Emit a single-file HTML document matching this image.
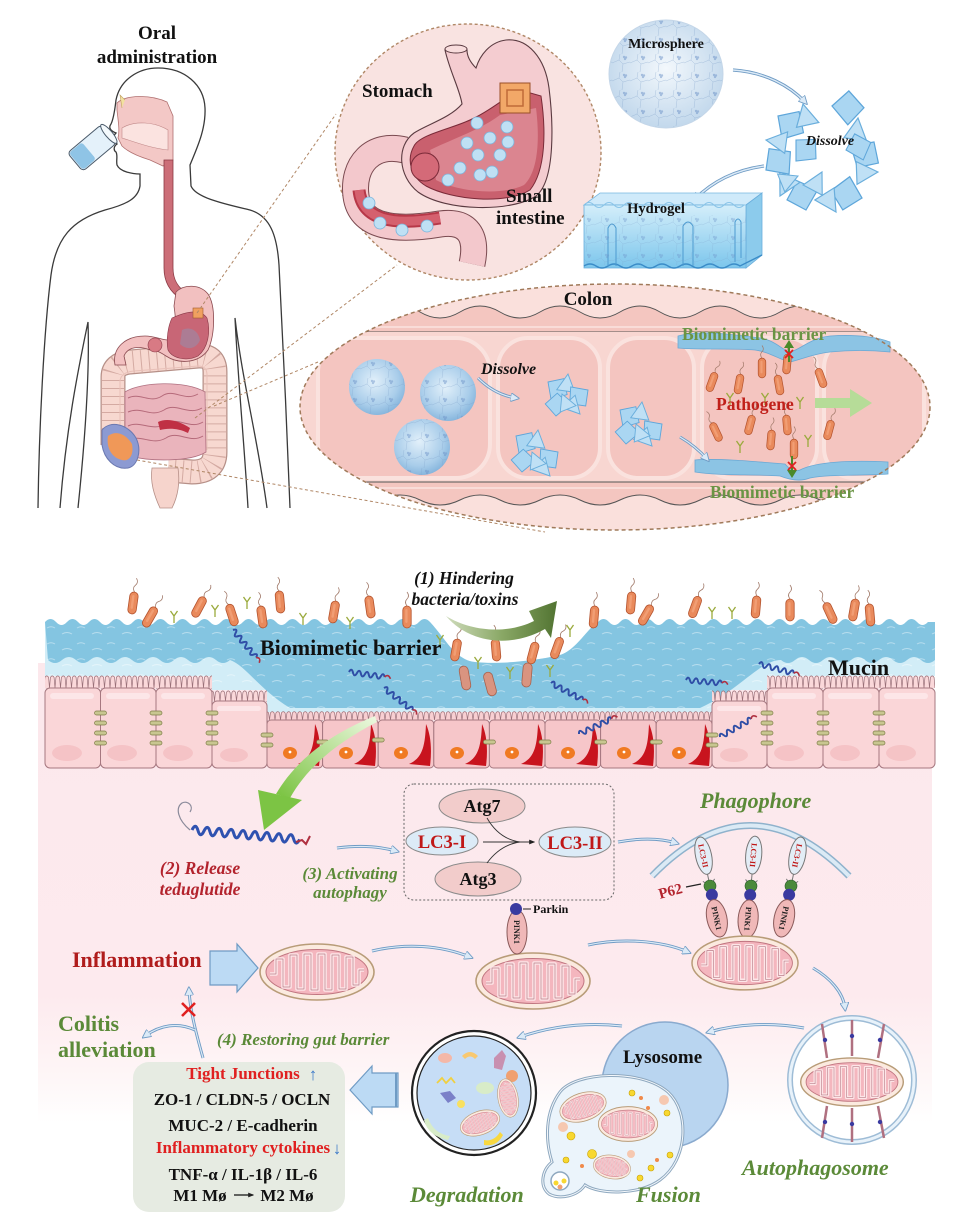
<!DOCTYPE html>
<html><head><meta charset="utf-8">
<style>
html,body{margin:0;padding:0;background:#fff;}
svg{display:block;}
text{font-family:"Liberation Serif","Times New Roman",serif;font-weight:bold;}
</style></head>
<body>
<svg width="955" height="1231" viewBox="0 0 955 1231" xmlns="http://www.w3.org/2000/svg">
<defs>
 <radialGradient id="sph" cx="45%" cy="40%" r="62%">
  <stop offset="0" stop-color="#e2f0fa"/><stop offset="0.7" stop-color="#a9cdea"/><stop offset="1" stop-color="#84b4dc"/>
 </radialGradient>
 <radialGradient id="msph" cx="50%" cy="45%" r="55%">
  <stop offset="0" stop-color="#f3f8fc"/><stop offset="1" stop-color="#c2d8ec"/>
 </radialGradient>
 <linearGradient id="gArrow" x1="0" y1="0" x2="1" y2="0">
  <stop offset="0" stop-color="#cfdcbc"/><stop offset="0.5" stop-color="#8aa866"/><stop offset="1" stop-color="#527432"/>
 </linearGradient>
 <linearGradient id="lgArrow" x1="1" y1="0" x2="0" y2="1">
  <stop offset="0" stop-color="#eef9e2"/><stop offset="1" stop-color="#78c23e"/>
 </linearGradient>
 <linearGradient id="pinkbg" x1="0" y1="0" x2="0" y2="1">
  <stop offset="0" stop-color="#fce8ec"/><stop offset="0.72" stop-color="#fdeaee"/><stop offset="0.9" stop-color="#fef6f7"/><stop offset="1" stop-color="#ffffff"/>
 </linearGradient>
 <linearGradient id="hyd" x1="0" y1="0" x2="0" y2="1">
  <stop offset="0" stop-color="#d4eefa"/><stop offset="1" stop-color="#7cc6ec"/>
 </linearGradient>
 <pattern id="v1" x="0" y="675" width="5.5" height="13" patternUnits="userSpaceOnUse">
  <path d="M0,13 L0.9,2.5 Q2.75,-0.8 4.6,2.5 L5.5,13" fill="#fad8da" stroke="#9a7078" stroke-width="0.7"/>
 </pattern>
 <pattern id="v2" x="0" y="690" width="5.5" height="11" patternUnits="userSpaceOnUse">
  <path d="M0,11 L0.9,2.5 Q2.75,-0.8 4.6,2.5 L5.5,11" fill="#fad8da" stroke="#9a7078" stroke-width="0.7"/>
 </pattern>
 <pattern id="v3" x="0" y="711" width="5.5" height="9" patternUnits="userSpaceOnUse">
  <path d="M0,9 L0.9,2 Q2.75,-0.8 4.6,2 L5.5,9" fill="#f8cfd2" stroke="#9a7078" stroke-width="0.7"/>
 </pattern>
 <pattern id="wv" x="0" y="0" width="30" height="16" patternUnits="userSpaceOnUse">
  <path d="M2,10 q5,-3 10,0 M17,4 q4,-2.5 8,0" fill="none" stroke="#ffffff" stroke-width="1" opacity="0.7"/>
 </pattern>
 <pattern id="net" x="0" y="0" width="18" height="18" patternUnits="userSpaceOnUse">
  <path d="M0,9 L7,6 L11,10 L18,8 M7,6 L8,0 M11,10 L10,18" fill="none" stroke="#7a9cc6" stroke-width="0.5"/>
  <circle cx="12" cy="3" r="1.2" fill="#6a90c6"/><circle cx="14" cy="3.5" r="1.2" fill="#6a90c6"/><circle cx="13" cy="5" r="1.2" fill="#6a90c6"/>
 </pattern>
 <marker id="mb" viewBox="0 0 10 10" refX="6" refY="5" markerWidth="9" markerHeight="9" markerUnits="userSpaceOnUse" orient="auto">
  <path d="M0,0 L10,5 L0,10 Z" fill="#dbeaf7" stroke="#6f9bc4" stroke-width="1"/>
 </marker>
 <marker id="mk" viewBox="0 0 10 10" refX="8" refY="5" markerWidth="6" markerHeight="6" markerUnits="userSpaceOnUse" orient="auto">
  <path d="M0,1 L10,5 L0,9 Z" fill="#222"/>
 </marker>
 <g id="bac">
  <path d="M0,-11 q-3,-4 0,-7 q3,-3 0,-7" fill="none" stroke="#a07868" stroke-width="0.8"/>
  <rect x="-4.2" y="-11" width="8.4" height="22" rx="4.2" fill="#e98a5c" stroke="#b4532e" stroke-width="0.8"/>
  <rect x="-1.8" y="-8" width="2.4" height="14" rx="1.2" fill="#f3a37a" opacity="0.8"/>
 </g>
 <g id="bac2">
  <rect x="-4.5" y="-12" width="9" height="24" rx="4.5" fill="#d99480" stroke="#a8614c" stroke-width="0.8"/>
 </g>
 <g id="yt"><path d="M0,7 L0,0 L-3.5,-5 M0,0 L3.5,-5" stroke="#9aaa3c" stroke-width="1.3" fill="none"/></g>
 <g id="hx">
  <path d="M0,0 q2,-5 4,0 t4,0 t4,0 t4,0 t4,0 t4,0 t4,0 t4,0 t4,0" fill="none" stroke="#2f4ea6" stroke-width="2"/>
  <path d="M36,0 q3,-4 6,1" fill="none" stroke="#b03040" stroke-width="1.6"/>
 </g>
 <g id="mito">
  <ellipse rx="57" ry="28" fill="#fbeadf" stroke="#b89c78" stroke-width="1.6"/>
  <ellipse rx="51" ry="22.5" fill="#f4b6be" stroke="#c07580" stroke-width="1"/>
  <path d="M-47,2 L-41,2 L-41,-13 L-34,-13 L-34,15 L-27,15 L-27,-17 L-20,-17 L-20,17 L-13,17 L-13,-18 L-6,-18 L-6,18 L1,18 L1,-18 L8,-18 L8,18 L15,18 L15,-17 L22,-17 L22,17 L29,17 L29,-15 L36,-15 L36,13 L42,13 L42,-2 L47,-2" fill="none" stroke="#fde6e8" stroke-width="3.6" stroke-linejoin="round"/>
  <path d="M-47,2 L-41,2 L-41,-13 L-34,-13 L-34,15 L-27,15 L-27,-17 L-20,-17 L-20,17 L-13,17 L-13,-18 L-6,-18 L-6,18 L1,18 L1,-18 L8,-18 L8,18 L15,18 L15,-17 L22,-17 L22,17 L29,17 L29,-15 L36,-15 L36,13 L42,13 L42,-2 L47,-2" fill="none" stroke="#a86472" stroke-width="0.7" stroke-linejoin="round" opacity="0.8"/>
 </g>
 <g id="jn"><rect x="-6" y="-2" width="12" height="4" rx="2" fill="#c8c690" stroke="#7e7c48" stroke-width="0.7"/></g>
 <clipPath id="colclip"><ellipse cx="615" cy="407" rx="315" ry="123"/></clipPath>
 <g id="frag">
  <path d="M0,0 L10,-4 L14,6 L4,11 Z" fill="#aad6f2" stroke="#5ea6da" stroke-width="0.6"/>
 </g>
 <g id="frag2">
  <path d="M0,0 L12,2 L5,11 Z" fill="#bfe0f5" stroke="#6aaedc" stroke-width="0.6"/>
 </g>
 <clipPath id="mucclip"><path d="M45,616 L430,616 C445,638 455,660 475,662 C500,665 540,660 560,655 C576,650 586,630 598,616 L935,616 L935,676 L767,676 L767,690 L712,690 L712,712 L267,712 L267,690 L212,690 L212,676 L45,676 Z"/></clipPath>
</defs>

<!-- ================= TOP: BODY ================= -->
<g fill="none" stroke="#3a3a3a" stroke-width="1.3">
 <path d="M38,508 C39,430 44,330 51,275 C56,238 72,220 105,210 C128,204 138,198 140,186 L140,174 C133,174 120,172 117,165 C116,160 118,156 116,152 C113,150 114,146 117,144 C112,140 113,136 116,133 C111,131 108,128 111,124 C114,118 115,108 116,100 C120,80 138,68 158,68 C185,68 204,85 205,108 C206,130 196,150 190,165 L191,186 C196,198 225,204 250,210 C270,216 277,235 279,265 C283,340 287,430 290,508"/>
 <path d="M60,508 C66,430 78,370 88,322 C90,380 84,450 78,508"/>
 <path d="M248,508 C244,440 238,380 235,318 C242,380 258,440 267,508"/>
</g>
<!-- cup -->
<g transform="translate(92,148) rotate(50)">
 <rect x="-12" y="-22" width="24" height="44" rx="4" fill="#e4f1fa" stroke="#4a5a6a" stroke-width="1"/>
 <rect x="-11" y="4" width="22" height="17" rx="3" fill="#8fc4e6"/>
 <ellipse cx="0" cy="-22" rx="12" ry="3.5" fill="#f4f9fc" stroke="#4a5a6a" stroke-width="1"/>
</g>
<!-- head cavity -->
<path d="M117,103 C125,95 150,94 167,102 L173,116 L173,160 L163,166 L150,160 C140,157 128,152 122,146 L118,138 C120,130 118,120 117,110 Z" fill="#f3c8c6" stroke="#b07070" stroke-width="0.8"/>
<path d="M122,128 C135,120 155,122 168,130 L168,150 C150,148 135,142 122,138 Z" fill="#fbe3e0" stroke="#c08888" stroke-width="0.6"/>
<path d="M125,100 L120,95 L122,108" fill="#f2e0a0" stroke="#c0a060" stroke-width="0.6"/>
<!-- esophagus -->
<path d="M164,160 L173,160 L173,268 C173,280 178,288 188,294 L181,299 C170,292 164,282 164,268 Z" fill="#cc6e78" stroke="#8a3a44" stroke-width="0.8"/>
<!-- large intestine -->
<path d="M113,445 L113,377 Q113,364 130,362 L198,356 Q215,355 215,372 L215,452 Q215,472 192,472 L168,470" fill="none" stroke="#b69088" stroke-width="25"/>
<path d="M113,445 L113,377 Q113,364 130,362 L198,356 Q215,355 215,372 L215,452 Q215,472 192,472 L168,470" fill="none" stroke="#f7d8d0" stroke-width="22.5"/>
<path d="M113,445 L113,377 Q113,364 130,362 L198,356 Q215,355 215,372 L215,452 Q215,472 192,472 L168,470" fill="none" stroke="#d4aaa2" stroke-width="22" stroke-dasharray="1,7"/>
<path d="M120,443 L120,380 Q122,372 134,371 L198,366 Q207,366 207,375 L207,450" fill="none" stroke="#e8c0b8" stroke-width="1"/>
<!-- stomach (body) -->
<path d="M176,292 C184,284 200,284 208,294 C216,306 215,335 208,350 C198,364 178,364 166,356 C160,352 156,350 150,350 C140,346 128,346 124,356 L126,365 L115,365 C112,348 125,336 145,336 C155,336 162,340 168,340 C178,338 176,320 174,306 Z" fill="#f2c0c0" stroke="#8a4a50" stroke-width="0.8"/>
<path d="M172,318 C185,312 200,308 207,318 C211,332 208,348 198,356 C186,362 172,358 168,350 C166,340 168,326 172,318 Z" fill="#c86676" stroke="#8a3a48" stroke-width="0.6"/>
<path d="M182,330 C190,326 198,330 200,340 C196,350 186,350 180,344 Z" fill="#9a8aa8" opacity="0.6"/>
<circle cx="155" cy="345" r="7" fill="#d87a84" stroke="#8a3a48" stroke-width="0.6"/>
<rect x="193" y="308" width="10" height="10" fill="#f0a060" stroke="#a05a30" stroke-width="0.6"/>
<!-- small intestine -->
<path d="M125,392 C140,382 185,380 205,392 L206,452 C190,462 150,462 125,455 Z" fill="#eab4bc" stroke="#b07080" stroke-width="0.8"/>
<path d="M128,398 C140,392 150,404 162,396 C174,388 184,402 198,394 M128,412 C142,406 150,418 164,410 C176,402 188,416 202,408 M128,426 C140,420 152,432 166,424 C178,416 190,430 203,422 M128,440 C142,434 152,446 166,438 C178,430 190,444 203,436" fill="none" stroke="#b56a7a" stroke-width="1"/>
<path d="M158,422 C166,418 178,420 190,428 L188,433 C178,428 168,428 160,430 Z" fill="#c03044"/>
<!-- cecum -->
<path d="M102,430 C110,420 128,424 136,438 C142,450 138,466 128,468 C114,470 104,458 102,445 Z" fill="#8c9ad2" stroke="#6a78b0" stroke-width="1"/>
<path d="M108,436 C116,430 126,434 132,444 C134,454 130,462 122,460 C112,458 106,448 108,436 Z" fill="#f09858"/>
<!-- rectum -->
<path d="M152,468 C150,482 154,495 160,508 L172,508 C178,496 180,482 178,468 Z" fill="#f6d4cc" stroke="#b69088" stroke-width="0.8"/>

<!-- dashed connectors -->
<g stroke="#b08766" stroke-width="1" stroke-dasharray="3,2.5" fill="none">
 <line x1="197" y1="313" x2="336" y2="114"/>
 <line x1="195" y1="418" x2="397" y2="265"/>
 <line x1="214" y1="406" x2="318" y2="362"/>
 <line x1="137" y1="460" x2="545" y2="532"/>
</g>

<text x="157" y="39" font-size="19" text-anchor="middle" fill="#111">Oral</text>
<text x="157" y="63" font-size="19" text-anchor="middle" fill="#111">administration</text>

<!-- ================= STOMACH CIRCLE ================= -->
<ellipse cx="468" cy="152" rx="133" ry="128" fill="#f9e3e1" stroke="#b08766" stroke-width="1.4" stroke-dasharray="3,2.5"/>
<path d="M405,150 C372,142 352,165 356,196 C360,226 392,232 440,224 C468,220 478,236 472,264" fill="none" stroke="#7a4a50" stroke-width="27"/>
<path d="M405,150 C372,142 352,165 356,196 C360,226 392,232 440,224 C468,220 478,236 472,264" fill="none" stroke="#f3c8cc" stroke-width="25"/>
<path d="M359,190 C362,220 392,226 440,218" fill="none" stroke="#b73848" stroke-width="13"/>
<path d="M359,190 C362,220 392,226 440,218" fill="none" stroke="#d5606e" stroke-width="9"/>
<path d="M445,50 C450,72 460,90 462,104 C450,118 428,124 414,133 C396,146 398,176 418,192 C446,212 512,212 536,196 C556,180 553,120 549,88 C545,58 528,38 506,40 C490,42 480,55 476,68 C470,62 467,56 467,50 Z" fill="#f4ccd0" stroke="#5a3a40" stroke-width="1.1"/>
<ellipse cx="456" cy="49" rx="11" ry="4" fill="#f8dcdc" stroke="#5a3a40" stroke-width="1"/>
<path d="M414,146 C420,134 455,128 472,119 C492,110 506,96 520,90 L541,96 C546,130 546,170 530,190 C506,205 452,200 426,186 C411,177 406,160 414,146 Z" fill="#c9606e" stroke="#7a2a38" stroke-width="1"/>
<path d="M430,150 C450,140 480,130 500,115 L536,108 C540,140 538,172 524,185 C502,196 458,192 436,180 Z" fill="#e08e98" opacity="0.8"/>
<circle cx="425" cy="167" r="14" fill="#d46a78" stroke="#7a2a38" stroke-width="1"/>
<rect x="500" y="83" width="30" height="30" fill="#f2a868" stroke="#9a5028" stroke-width="1"/>
<rect x="507" y="90" width="16" height="16" fill="none" stroke="#c06a38" stroke-width="1.5"/>
<g fill="#bfe0f4" stroke="#7ab4dc" stroke-width="0.8">
 <circle cx="477" cy="123" r="6"/><circle cx="507" cy="127" r="6"/><circle cx="467" cy="143" r="6"/><circle cx="490" cy="138" r="6"/><circle cx="508" cy="142" r="6"/><circle cx="478" cy="155" r="6"/><circle cx="500" cy="155" r="6"/><circle cx="460" cy="168" r="6"/><circle cx="480" cy="175" r="6"/><circle cx="492" cy="172" r="6"/><circle cx="448" cy="180" r="6"/>
 <circle cx="369" cy="203" r="6"/><circle cx="380" cy="223" r="6"/><circle cx="402" cy="230" r="6"/><circle cx="427" cy="226" r="6"/>
</g>
<text x="362" y="97" font-size="19" fill="#111">Stomach</text>
<text x="506" y="202" font-size="19" fill="#111">Small</text>
<text x="496" y="224" font-size="19" fill="#111">intestine</text>

<!-- ================= MICROSPHERE / HYDROGEL ================= -->
<ellipse cx="666" cy="74" rx="57" ry="54" fill="url(#msph)"/>
<ellipse cx="666" cy="74" rx="57" ry="54" fill="url(#net)" opacity="0.5"/>
<ellipse cx="666" cy="74" rx="57" ry="54" fill="none" stroke="#c4d6e8" stroke-width="1"/>
<text x="666" y="48" font-size="14" text-anchor="middle" fill="#111">Microsphere</text>
<path d="M733,70 C765,72 790,86 805,102" fill="none" stroke="#6f9bc4" stroke-width="3.2" marker-end="url(#mb)"/>
<path d="M733,70 C765,72 790,86 805,102" fill="none" stroke="#dbeaf7" stroke-width="1.4"/>
<!-- dissolved fragments -->
<g>
 <use href="#frag" transform="translate(778,116) rotate(10) scale(2)"/>
 <use href="#frag2" transform="translate(803,104) rotate(40) scale(2)"/>
 <use href="#frag" transform="translate(832,106) rotate(-20) scale(2.1)"/>
 <use href="#frag2" transform="translate(858,118) rotate(60) scale(2)"/>
 <use href="#frag" transform="translate(874,142) rotate(100) scale(2)"/>
 <use href="#frag2" transform="translate(878,172) rotate(140) scale(2)"/>
 <use href="#frag" transform="translate(862,198) rotate(170) scale(2.1)"/>
 <use href="#frag2" transform="translate(836,212) rotate(200) scale(2)"/>
 <use href="#frag" transform="translate(806,210) rotate(230) scale(2)"/>
 <use href="#frag2" transform="translate(780,196) rotate(260) scale(2)"/>
 <use href="#frag" transform="translate(766,170) rotate(300) scale(2)"/>
 <use href="#frag2" transform="translate(766,140) rotate(330) scale(1.9)"/>
 <use href="#frag" transform="translate(796,140) rotate(20) scale(1.8)"/>
 <use href="#frag2" transform="translate(822,172) rotate(80) scale(1.9)"/>
 <use href="#frag" transform="translate(846,150) rotate(-40) scale(1.7)"/>
 <use href="#frag2" transform="translate(798,176) rotate(120) scale(1.7)"/>
</g>
<text x="830" y="145" font-size="14" font-style="italic" text-anchor="middle" fill="#111">Dissolve</text>
<path d="M764,166 C735,170 712,182 695,199" fill="none" stroke="#6f9bc4" stroke-width="3.2" marker-end="url(#mb)"/>
<path d="M764,166 C735,170 712,182 695,199" fill="none" stroke="#dbeaf7" stroke-width="1.4"/>
<!-- hydrogel slab -->
<path d="M584,205 L600,193 L762,193 L746,205 Z" fill="#cfeafa" stroke="#7ab8e0" stroke-width="0.8"/>
<path d="M746,205 L762,193 L762,255 L746,268 Z" fill="#8ccbec" stroke="#6aaedc" stroke-width="0.8"/>
<path d="M584,205 L746,205 L746,268 L584,268 Z" fill="url(#hyd)" stroke="#6aaedc" stroke-width="0.8"/>
<path d="M584,205 q5,-5 10,0 t10,0 t10,0 t10,0 t10,0 t10,0 t10,0 t10,0 t10,0 t10,0 t10,0 t10,0 t10,0 t10,0 t10,0 t10,0 L746,205" fill="none" stroke="#8ac4e8" stroke-width="1"/>
<path d="M584,266 q6,-4 12,0 t12,0 t12,0 t12,0 t12,0 t12,0 t12,0 t12,0 t12,0 t12,0 t12,0 t12,0 t12,0 L762,255" fill="none" stroke="#3a8cc8" stroke-width="1.4"/>
<g fill="none" stroke="#4c9ad0" stroke-width="1">
 <path d="M608,266 L608,228 Q612,220 616,228 L616,266"/>
 <path d="M683,266 L683,226 Q688,218 693,226 L693,266"/>
 <path d="M735,262 L735,222 Q738,216 741,222 L741,258"/>
</g>
<rect x="584" y="215" width="162" height="50" fill="url(#net)" opacity="0.35"/>
<text x="656" y="213" font-size="14.5" text-anchor="middle" fill="#111">Hydrogel</text>

<!-- ================= COLON ELLIPSE ================= -->
<ellipse cx="615" cy="407" rx="315" ry="123" fill="#fae0dc"/>
<g clip-path="url(#colclip)">
 <path d="M300,312 q20,-12 40,0 t40,0 t40,0 t40,0 t40,0 t40,0 t40,0 t40,0 t40,0 t40,0 t40,0 t40,0 t40,0 t40,0 t40,0 t40,0 L940,332 L300,332 Z" fill="#f4c6c0" stroke="#555" stroke-width="1"/>
 <rect x="300" y="332" width="640" height="150" fill="#f8d6d1"/>
 <g fill="#f4c5c0" stroke="#fae2de" stroke-width="4">
  <rect x="318" y="338" width="172" height="140" rx="34"/>
  <rect x="498" y="338" width="102" height="140" rx="30"/>
  <rect x="608" y="338" width="86" height="140" rx="30"/>
  <rect x="702" y="338" width="115" height="140" rx="30"/>
  <rect x="824" y="338" width="100" height="140" rx="30"/>
 </g>
 <path d="M300,482 L940,482 L940,500 q-20,10 -40,0 t-40,0 t-40,0 t-40,0 t-40,0 t-40,0 t-40,0 t-40,0 t-40,0 t-40,0 t-40,0 t-40,0 t-40,0 t-40,0 t-40,0 t-40,0 Z" fill="#f4c6c0" stroke="#555" stroke-width="1"/>
 <line x1="300" y1="488" x2="940" y2="488" stroke="#f9dcd8" stroke-width="2"/>
 <line x1="300" y1="327" x2="940" y2="327" stroke="#f9dcd8" stroke-width="2"/>
</g>
<path d="M678,336 C700,330 730,334 760,338 C775,340 782,350 790,352 C800,350 810,338 830,336 C860,334 880,338 890,342 L890,352 C870,350 850,350 830,352 C812,354 800,360 790,362 C780,360 770,352 755,350 C730,348 700,350 678,348 Z" fill="#8cc4e4" stroke="#6aa8d4" stroke-width="0.8"/>
<path d="M695,460 C720,458 760,462 785,464 C790,470 795,472 800,470 C815,462 850,460 888,462 L888,474 C860,476 830,474 810,478 C800,482 790,480 780,476 C750,474 720,476 695,472 Z" fill="#8cc4e4" stroke="#6aa8d4" stroke-width="0.8"/>
<g>
 <circle cx="377" cy="387" r="28" fill="url(#sph)"/><circle cx="377" cy="387" r="28" fill="url(#net)" opacity="0.45"/>
 <circle cx="448" cy="393" r="28" fill="url(#sph)"/><circle cx="448" cy="393" r="28" fill="url(#net)" opacity="0.45"/>
 <circle cx="422" cy="447" r="28" fill="url(#sph)"/><circle cx="422" cy="447" r="28" fill="url(#net)" opacity="0.45"/>
</g>
<g>
 <use href="#frag" transform="translate(548,382) rotate(10) scale(1.5)"/>
 <use href="#frag2" transform="translate(568,374) rotate(60) scale(1.6)"/>
 <use href="#frag" transform="translate(588,390) rotate(120) scale(1.5)"/>
 <use href="#frag2" transform="translate(580,414) rotate(190) scale(1.6)"/>
 <use href="#frag" transform="translate(556,416) rotate(250) scale(1.5)"/>
 <use href="#frag2" transform="translate(562,394) rotate(30) scale(1.5)"/>
 <use href="#frag" transform="translate(516,436) rotate(10) scale(1.5)"/>
 <use href="#frag2" transform="translate(538,430) rotate(60) scale(1.6)"/>
 <use href="#frag" transform="translate(558,452) rotate(120) scale(1.5)"/>
 <use href="#frag2" transform="translate(550,476) rotate(190) scale(1.6)"/>
 <use href="#frag" transform="translate(522,472) rotate(250) scale(1.5)"/>
 <use href="#frag2" transform="translate(532,452) rotate(30) scale(1.5)"/>
 <use href="#frag" transform="translate(620,410) rotate(10) scale(1.5)"/>
 <use href="#frag2" transform="translate(642,402) rotate(60) scale(1.6)"/>
 <use href="#frag" transform="translate(662,424) rotate(120) scale(1.5)"/>
 <use href="#frag2" transform="translate(652,446) rotate(190) scale(1.6)"/>
 <use href="#frag" transform="translate(626,444) rotate(250) scale(1.5)"/>
 <use href="#frag2" transform="translate(636,424) rotate(30) scale(1.5)"/>
</g>
<path d="M478,378 C490,390 503,396 516,398" fill="none" stroke="#6f9bc4" stroke-width="3" marker-end="url(#mb)"/>
<path d="M478,378 C490,390 503,396 516,398" fill="none" stroke="#dbeaf7" stroke-width="1.2"/>
<path d="M680,437 C692,444 700,451 707,459" fill="none" stroke="#6f9bc4" stroke-width="3" marker-end="url(#mb)"/>
<path d="M680,437 C692,444 700,451 707,459" fill="none" stroke="#dbeaf7" stroke-width="1.2"/>
<g>
 <use href="#bac" transform="translate(712,382) rotate(20) scale(0.9)"/>
 <use href="#bac" transform="translate(739,384) rotate(10) scale(0.9)"/>
 <use href="#bac" transform="translate(762,368) rotate(0) scale(0.9)"/>
 <use href="#bac" transform="translate(779,385) rotate(-10) scale(0.9)"/>
 <use href="#bac" transform="translate(787,364) rotate(5) scale(0.9)"/>
 <use href="#bac" transform="translate(821,378) rotate(-20) scale(0.9)"/>
 <use href="#bac" transform="translate(750,425) rotate(15) scale(0.9)"/>
 <use href="#bac" transform="translate(716,432) rotate(-25) scale(0.9)"/>
 <use href="#bac" transform="translate(771,440) rotate(5) scale(0.9)"/>
 <use href="#bac" transform="translate(787,425) rotate(-5) scale(0.9)"/>
 <use href="#bac" transform="translate(829,430) rotate(15) scale(0.9)"/>
 <use href="#bac" transform="translate(794,449) rotate(0) scale(0.9)"/>
 <use href="#yt" transform="translate(730,398)"/><use href="#yt" transform="translate(765,398)"/><use href="#yt" transform="translate(800,402)"/><use href="#yt" transform="translate(808,440)"/><use href="#yt" transform="translate(740,446)"/>
</g>
<g>
 <path d="M789,362 L789,346" stroke="#4a8a2a" stroke-width="2"/><path d="M784,348 L789,340 L794,348 Z" fill="#4a8a2a"/>
 <path d="M785,350 L793,358 M793,350 L785,358" stroke="#e02020" stroke-width="1.8"/>
 <path d="M792,456 L792,472" stroke="#4a8a2a" stroke-width="2"/><path d="M787,470 L792,478 L797,470 Z" fill="#4a8a2a"/>
 <path d="M788,462 L796,470 M796,462 L788,470" stroke="#e02020" stroke-width="1.8"/>
</g>
<path d="M815,398 L850,398 L850,389 L872,403 L850,417 L850,408 L815,408 Z" fill="#b6dc98"/>
<ellipse cx="615" cy="407" rx="315" ry="123" fill="none" stroke="#a07a5a" stroke-width="1.5" stroke-dasharray="4,3"/>
<text x="588" y="305" font-size="19" text-anchor="middle" fill="#111">Colon</text>
<text x="481" y="374" font-size="16" font-style="italic" fill="#111">Dissolve</text>
<text x="716" y="410" font-size="17.5" fill="#c0201a">Pathogene</text>
<text x="682" y="340" font-size="17.5" fill="#6a9444">Biomimetic barrier</text>
<text x="710" y="498" font-size="17.5" fill="#6a9444">Biomimetic barrier</text>

<!-- ================= BOTTOM PANEL ================= -->
<rect x="38" y="663" width="894" height="460" fill="url(#pinkbg)"/>

<path d="M45,622 q5.5,-6 11,0 t11,0 t11,0 t11,0 t11,0 t11,0 t11,0 t11,0 t11,0 t11,0 t11,0 t11,0 t11,0 t11,0 t11,0 t11,0 t11,0 t11,0 t11,0 t11,0 t11,0 t11,0 t11,0 t11,0 t11,0 t11,0 t11,0 t11,0 t11,0 t11,0 t11,0 t11,0 t11,0 t11,0 t11,0 C445,638 455,660 475,662 C500,665 540,660 560,655 C576,650 586,630 598,622 q5.5,-6 11,0 t11,0 t11,0 t11,0 t11,0 t11,0 t11,0 t11,0 t11,0 t11,0 t11,0 t11,0 t11,0 t11,0 t11,0 t11,0 t11,0 t11,0 t11,0 t11,0 t11,0 t11,0 t11,0 t11,0 t11,0 t11,0 t11,0 t11,0 t11,0 t11,0 L935,622 L935,676 L767,676 L767,690 L712,690 L712,712 L267,712 L267,690 L212,690 L212,676 L45,676 Z" fill="#d2edf7"/>
<path d="M45,622 q5.5,-6 11,0 t11,0 t11,0 t11,0 t11,0 t11,0 t11,0 t11,0 t11,0 t11,0 t11,0 t11,0 t11,0 t11,0 t11,0 t11,0 t11,0 t11,0 t11,0 t11,0 t11,0 t11,0 t11,0 t11,0 t11,0 t11,0 t11,0 t11,0 t11,0 t11,0 t11,0 t11,0 t11,0 t11,0 t11,0 C445,638 455,660 475,662 C500,665 540,660 560,655 C576,650 586,630 598,622 q5.5,-6 11,0 t11,0 t11,0 t11,0 t11,0 t11,0 t11,0 t11,0 t11,0 t11,0 t11,0 t11,0 t11,0 t11,0 t11,0 t11,0 t11,0 t11,0 t11,0 t11,0 t11,0 t11,0 t11,0 t11,0 t11,0 t11,0 t11,0 t11,0 t11,0 t11,0 L935,622 L935,660 q-7,6 -14,0 t-14,0 t-14,0 t-14,0 t-14,0 t-14,0 t-14,0 t-14,0 t-14,0 t-14,0 t-14,0 C760,660 740,690 700,708 L290,708 C260,690 245,665 230,660 q-7,6 -14,0 t-14,0 t-14,0 t-14,0 t-14,0 t-14,0 t-14,0 t-14,0 t-14,0 t-14,0 t-14,0 t-14,0 t-14,0 Z" fill="#84c5e1"/>
<rect x="45" y="610" width="890" height="102" fill="url(#wv)" opacity="0.6" clip-path="url(#mucclip)"/>

<g stroke="#a67880" stroke-width="1">
 <rect x="45" y="675" width="55.5" height="14" fill="url(#v1)" stroke="none"/>
 <rect x="100.5" y="675" width="55.5" height="14" fill="url(#v1)" stroke="none"/>
 <rect x="156" y="675" width="56" height="14" fill="url(#v1)" stroke="none"/>
 <rect x="212" y="690" width="55" height="12" fill="url(#v2)" stroke="none"/>
 <rect x="712" y="690" width="55" height="12" fill="url(#v2)" stroke="none"/>
 <rect x="767" y="675" width="56" height="14" fill="url(#v1)" stroke="none"/>
 <rect x="823" y="675" width="56" height="14" fill="url(#v1)" stroke="none"/>
 <rect x="879" y="675" width="56" height="14" fill="url(#v1)" stroke="none"/>
 <rect x="267" y="711" width="445" height="10" fill="url(#v3)" stroke="none"/>
 <rect x="45" y="688" width="55.5" height="80" rx="5" fill="#fad6d8"/>
 <rect x="100.5" y="688" width="55.5" height="80" rx="5" fill="#fad6d8"/>
 <rect x="156" y="688" width="56" height="80" rx="5" fill="#fad6d8"/>
 <rect x="212" y="701" width="55" height="67" rx="5" fill="#fad6d8"/>
 <rect x="712" y="701" width="55" height="67" rx="5" fill="#fad6d8"/>
 <rect x="767" y="688" width="56" height="80" rx="5" fill="#fad6d8"/>
 <rect x="823" y="688" width="56" height="80" rx="5" fill="#fad6d8"/>
 <rect x="879" y="688" width="56" height="80" rx="5" fill="#fad6d8"/>
</g>
<g fill="#f4bfc2" opacity="0.8">
 <ellipse cx="67" cy="753" rx="15" ry="8"/><ellipse cx="122" cy="753" rx="15" ry="8"/><ellipse cx="178" cy="753" rx="15" ry="8"/><ellipse cx="234" cy="755" rx="14" ry="7"/>
 <ellipse cx="734" cy="755" rx="14" ry="7"/><ellipse cx="789" cy="753" rx="15" ry="8"/><ellipse cx="845" cy="753" rx="15" ry="8"/><ellipse cx="901" cy="753" rx="15" ry="8"/>
</g>
<g fill="#fde8ea" opacity="0.9">
 <rect x="50" y="693" width="44" height="6" rx="3"/><rect x="106" y="693" width="44" height="6" rx="3"/><rect x="161" y="693" width="44" height="6" rx="3"/><rect x="217" y="706" width="44" height="5" rx="2.5"/>
 <rect x="717" y="706" width="44" height="5" rx="2.5"/><rect x="772" y="693" width="44" height="6" rx="3"/><rect x="828" y="693" width="44" height="6" rx="3"/><rect x="884" y="693" width="44" height="6" rx="3"/>
</g>
<g stroke="#a67880" stroke-width="1" fill="#f6c6c9">
 <rect x="267" y="720" width="55.6" height="48" rx="4"/>
 <rect x="322.6" y="720" width="55.6" height="48" rx="4"/>
 <rect x="378.2" y="720" width="55.6" height="48" rx="4"/>
 <rect x="433.8" y="720" width="55.6" height="48" rx="4"/>
 <rect x="489.4" y="720" width="55.6" height="48" rx="4"/>
 <rect x="545" y="720" width="55.6" height="48" rx="4"/>
 <rect x="600.6" y="720" width="55.6" height="48" rx="4"/>
 <rect x="656.2" y="720" width="55.8" height="48" rx="4"/>
</g>
<g fill="#c8141e">
 <path d="M315,724 C314,745 312,758 298,764 L319,766 C321,750 320,735 315,724 Z"/>
 <path d="M371,724 C370,745 368,758 354,764 L375,766 C377,750 376,735 371,724 Z"/>
 <path d="M426,724 C425,745 423,758 409,764 L430,766 C432,750 431,735 426,724 Z"/>
 <path d="M482,724 C481,745 479,758 465,764 L486,766 C488,750 487,735 482,724 Z"/>
 <path d="M538,724 C537,745 535,758 521,764 L542,766 C544,750 543,735 538,724 Z"/>
 <path d="M593,724 C592,745 590,758 576,764 L597,766 C599,750 598,735 593,724 Z"/>
 <path d="M649,724 C648,745 646,758 632,764 L653,766 C655,750 654,735 649,724 Z"/>
 <path d="M705,724 C704,745 702,758 688,764 L709,766 C711,750 710,735 705,724 Z"/>
</g>
<g fill="#f07a22">
 <ellipse cx="290" cy="753" rx="7" ry="6"/><ellipse cx="346" cy="753" rx="7" ry="6"/><ellipse cx="401" cy="753" rx="7" ry="6"/><ellipse cx="457" cy="753" rx="7" ry="6"/><ellipse cx="512" cy="753" rx="7" ry="6"/><ellipse cx="568" cy="753" rx="7" ry="6"/><ellipse cx="624" cy="753" rx="7" ry="6"/><ellipse cx="679" cy="753" rx="7" ry="6"/>
</g>
<g fill="#fff">
 <circle cx="290" cy="752" r="1.4"/><circle cx="346" cy="752" r="1.4"/><circle cx="401" cy="752" r="1.4"/><circle cx="457" cy="752" r="1.4"/><circle cx="512" cy="752" r="1.4"/><circle cx="568" cy="752" r="1.4"/><circle cx="624" cy="752" r="1.4"/><circle cx="679" cy="752" r="1.4"/>
</g>
<g>
 <use href="#jn" x="100.5" y="713"/><use href="#jn" x="100.5" y="723"/><use href="#jn" x="100.5" y="733"/><use href="#jn" x="100.5" y="743"/>
 <use href="#jn" x="156" y="713"/><use href="#jn" x="156" y="723"/><use href="#jn" x="156" y="733"/><use href="#jn" x="156" y="743"/>
 <use href="#jn" x="212" y="713"/><use href="#jn" x="212" y="723"/><use href="#jn" x="212" y="733"/><use href="#jn" x="212" y="743"/>
 <use href="#jn" x="267" y="735"/><use href="#jn" x="267" y="745"/>
 <use href="#jn" x="322.6" y="742"/><use href="#jn" x="378.2" y="740"/><use href="#jn" x="489.4" y="742"/><use href="#jn" x="545" y="742"/><use href="#jn" x="600.6" y="742"/><use href="#jn" x="656.2" y="742"/>
 <use href="#jn" x="712" y="735"/><use href="#jn" x="712" y="745"/>
 <use href="#jn" x="767" y="713"/><use href="#jn" x="767" y="723"/><use href="#jn" x="767" y="733"/><use href="#jn" x="767" y="743"/>
 <use href="#jn" x="823" y="713"/><use href="#jn" x="823" y="723"/><use href="#jn" x="823" y="733"/><use href="#jn" x="823" y="743"/>
 <use href="#jn" x="879" y="713"/><use href="#jn" x="879" y="723"/><use href="#jn" x="879" y="733"/><use href="#jn" x="879" y="743"/>
</g>

<g>
 <use href="#bac" transform="translate(133,603) rotate(8)"/>
 <use href="#bac" transform="translate(150,617) rotate(30)"/>
 <use href="#bac" transform="translate(199,607) rotate(28)"/>
 <use href="#bac" transform="translate(232,615) rotate(-18)"/>
 <use href="#bac" transform="translate(262,617) rotate(-8)"/>
 <use href="#bac" transform="translate(280,602) rotate(-5)"/>
 <use href="#bac" transform="translate(334,612) rotate(10)"/>
 <use href="#bac" transform="translate(370,607) rotate(-8)"/>
 <use href="#bac" transform="translate(407,617) rotate(0)"/>
 <use href="#bac" transform="translate(594,617) rotate(5)"/>
 <use href="#bac" transform="translate(631,603) rotate(5)"/>
 <use href="#bac" transform="translate(646,615) rotate(30)"/>
 <use href="#bac" transform="translate(695,607) rotate(20)"/>
 <use href="#bac" transform="translate(756,607) rotate(5)"/>
 <use href="#bac" transform="translate(790,610) rotate(0)"/>
 <use href="#bac" transform="translate(830,613) rotate(-25)"/>
 <use href="#bac" transform="translate(854,610) rotate(10)"/>
 <use href="#bac" transform="translate(870,615) rotate(-5)"/>
 <use href="#bac" transform="translate(456,650) rotate(10)"/>
 <use href="#bac" transform="translate(496,650) rotate(-5)"/>
 <use href="#bac" transform="translate(533,653) rotate(15)"/>
 <use href="#bac" transform="translate(557,648) rotate(20)"/>
 <use href="#bac2" transform="translate(465,678) rotate(-10)"/>
 <use href="#bac2" transform="translate(490,684) rotate(-15)"/>
 <use href="#bac2" transform="translate(527,675) rotate(5)"/>
</g>
<g>
 <use href="#yt" transform="translate(174,616)"/><use href="#yt" transform="translate(215,610)"/><use href="#yt" transform="translate(247,602)"/><use href="#yt" transform="translate(303,618)"/><use href="#yt" transform="translate(350,622)"/>
 <use href="#yt" transform="translate(440,640)"/><use href="#yt" transform="translate(478,662)"/><use href="#yt" transform="translate(510,672)"/><use href="#yt" transform="translate(550,670)"/><use href="#yt" transform="translate(570,630)"/>
 <use href="#yt" transform="translate(712,612)"/><use href="#yt" transform="translate(732,612)"/>
</g>
<g>
 <use href="#hx" transform="translate(233,630) rotate(50)"/>
 <use href="#hx" transform="translate(349,672) rotate(8)"/>
 <use href="#hx" transform="translate(384,688) rotate(38)"/>
 <use href="#hx" transform="translate(551,683) rotate(28)"/>
 <use href="#hx" transform="translate(686,680) rotate(5)"/>
 <use href="#hx" transform="translate(759,664) rotate(15)"/>
 <use href="#hx" transform="translate(720,737) rotate(-30)"/>
 <use href="#hx" transform="translate(579,734) rotate(-25)"/>
</g>
<path d="M446,616 C472,632 508,634 534,621 L529,611 L557,601 L551,638 L545,629 C512,648 470,644 446,616 Z" fill="url(#gArrow)"/>
<text x="464" y="584" font-size="17.5" font-style="italic" text-anchor="middle" fill="#111">(1) Hindering</text>
<text x="465" y="605" font-size="17.5" font-style="italic" text-anchor="middle" fill="#111">bacteria/toxins</text>
<text x="260" y="655" font-size="22" fill="#111">Biomimetic barrier</text>
<text x="828" y="675" font-size="22" fill="#111">Mucin</text>

<path d="M375,716 C330,734 296,760 276,794 L290,798 C308,766 338,742 377,722 Z" fill="url(#lgArrow)"/>
<path d="M258,790 L302,800 L264,830 Z" fill="#7cc444"/>

<path d="M190,830 C178,820 175,808 182,803 C188,800 194,806 190,812" fill="none" stroke="#8a8a9a" stroke-width="1.2"/>
<path d="M192,830 q3,-8 6,0 t6,0 t6,0 t6,0 t6,0 t6,0 t6,0 t6,0 t6,0 t6,0 t6,0 t6,0 t6,0 t6,0 t6,0 t6,0 t6,0 t6,0" fill="none" stroke="#2f52b0" stroke-width="3" transform="rotate(5 192 830)"/>
<path d="M296,842 l6,-2 l4,4 l4,-8" fill="none" stroke="#b03040" stroke-width="2"/>
<text x="200" y="874" font-size="17.5" font-style="italic" text-anchor="middle" fill="#b3232d">(2) Release</text>
<text x="200" y="895" font-size="17.5" font-style="italic" text-anchor="middle" fill="#b3232d">teduglutide</text>
<path d="M337,848 C360,845 378,846 396,851" fill="none" stroke="#6f9bc4" stroke-width="3" marker-end="url(#mb)"/>
<path d="M337,848 C360,845 378,846 396,851" fill="none" stroke="#dbeaf7" stroke-width="1.2"/>
<text x="350" y="879" font-size="17" font-style="italic" text-anchor="middle" fill="#5b8a38">(3) Activating</text>
<text x="350" y="898" font-size="17" font-style="italic" text-anchor="middle" fill="#5b8a38">autophagy</text>

<rect x="404" y="784" width="210" height="116" rx="10" fill="none" stroke="#666" stroke-width="1" stroke-dasharray="2,2"/>
<ellipse cx="482" cy="806" rx="43" ry="17" fill="#f2cccb" stroke="#8a8a8a" stroke-width="1"/>
<ellipse cx="478" cy="879" rx="43" ry="17" fill="#f2cccb" stroke="#8a8a8a" stroke-width="1"/>
<ellipse cx="442" cy="841" rx="36" ry="14" fill="#dcebf7" stroke="#8a8a8a" stroke-width="1"/>
<ellipse cx="575" cy="842" rx="36" ry="15" fill="#dcebf7" stroke="#8a8a8a" stroke-width="1"/>
<path d="M483,842 L534,842" stroke="#333" stroke-width="1" marker-end="url(#mk)"/>
<path d="M487,818 C495,832 506,840 520,842" fill="none" stroke="#333" stroke-width="0.9"/>
<path d="M487,863 C495,852 506,844 520,842" fill="none" stroke="#333" stroke-width="0.9"/>
<text x="482" y="812" font-size="18" text-anchor="middle" fill="#111">Atg7</text>
<text x="478" y="885" font-size="18" text-anchor="middle" fill="#111">Atg3</text>
<text x="442" y="848" font-size="18.5" text-anchor="middle" fill="#c01818">LC3-I</text>
<text x="575" y="849" font-size="18.5" text-anchor="middle" fill="#c01818">LC3-II</text>
<path d="M618,842 C640,838 660,838 676,843" fill="none" stroke="#6f9bc4" stroke-width="3" marker-end="url(#mb)"/>
<path d="M618,842 C640,838 660,838 676,843" fill="none" stroke="#dbeaf7" stroke-width="1.2"/>

<text x="700" y="808" font-size="22" font-style="italic" fill="#5b8a38">Phagophore</text>
<path d="M652,876 Q750,775 849,876" fill="none" stroke="#8fb2cc" stroke-width="7"/>
<path d="M652,876 Q750,775 849,876" fill="none" stroke="#dbeaf5" stroke-width="4"/>
<g>
 <g transform="translate(710,886) rotate(-12)">
  <line x1="0" y1="-12" x2="0" y2="0" stroke="#777" stroke-width="1"/>
  <ellipse cx="0" cy="-31" rx="8" ry="19" fill="#e3edf6" stroke="#777" stroke-width="1"/>
  <text x="0" y="-31" font-size="8" fill="#c01818" text-anchor="middle" transform="rotate(90 0 -31)" dy="3">LC3-II</text>
  <path d="M-6,-6 L0,0 L6,-6" fill="none" stroke="#777" stroke-width="1"/>
  <circle cx="0" cy="0" r="6" fill="#4a8a3a" stroke="#2a5a2a" stroke-width="0.6"/>
  <circle cx="0" cy="9" r="6" fill="#3a3aa0"/>
  <ellipse cx="0" cy="33" rx="10" ry="19" fill="#f0b8b8" stroke="#8a5a5a" stroke-width="1"/>
  <text x="0" y="33" font-size="8" fill="#222" text-anchor="middle" transform="rotate(90 0 33)" dy="3">PINK1</text>
 </g>
 <g transform="translate(751,886) rotate(5)">
  <line x1="0" y1="-12" x2="0" y2="0" stroke="#777" stroke-width="1"/>
  <ellipse cx="0" cy="-31" rx="8" ry="19" fill="#e3edf6" stroke="#777" stroke-width="1"/>
  <text x="0" y="-31" font-size="8" fill="#c01818" text-anchor="middle" transform="rotate(90 0 -31)" dy="3">LC3-II</text>
  <path d="M-6,-6 L0,0 L6,-6" fill="none" stroke="#777" stroke-width="1"/>
  <circle cx="0" cy="0" r="6" fill="#4a8a3a" stroke="#2a5a2a" stroke-width="0.6"/>
  <circle cx="0" cy="9" r="6" fill="#3a3aa0"/>
  <ellipse cx="0" cy="33" rx="10" ry="19" fill="#f0b8b8" stroke="#8a5a5a" stroke-width="1"/>
  <text x="0" y="33" font-size="8" fill="#222" text-anchor="middle" transform="rotate(90 0 33)" dy="3">PINK1</text>
 </g>
 <g transform="translate(791,886) rotate(12)">
  <line x1="0" y1="-12" x2="0" y2="0" stroke="#777" stroke-width="1"/>
  <ellipse cx="0" cy="-31" rx="8" ry="19" fill="#e3edf6" stroke="#777" stroke-width="1"/>
  <text x="0" y="-31" font-size="8" fill="#c01818" text-anchor="middle" transform="rotate(90 0 -31)" dy="3">LC3-II</text>
  <path d="M-6,-6 L0,0 L6,-6" fill="none" stroke="#777" stroke-width="1"/>
  <circle cx="0" cy="0" r="6" fill="#4a8a3a" stroke="#2a5a2a" stroke-width="0.6"/>
  <circle cx="0" cy="9" r="6" fill="#3a3aa0"/>
  <ellipse cx="0" cy="33" rx="10" ry="19" fill="#f0b8b8" stroke="#8a5a5a" stroke-width="1"/>
  <text x="0" y="33" font-size="8" fill="#222" text-anchor="middle" transform="rotate(90 0 33)" dy="3">PINK1</text>
 </g>
</g>
<text x="658" y="896" font-size="15" fill="#b3232d" transform="rotate(-15 670 890)">P62</text>
<line x1="686" y1="887" x2="701" y2="884" stroke="#222" stroke-width="1.2"/>
<use href="#mito" transform="translate(745,963) scale(0.93,0.96)"/>

<use href="#mito" transform="translate(317,972)"/>
<use href="#mito" transform="translate(533,981)"/>
<ellipse cx="517" cy="932" rx="10" ry="22" fill="#f0b8b8" stroke="#8a5a5a" stroke-width="1"/>
<text x="517" y="932" font-size="8" fill="#222" text-anchor="middle" transform="rotate(90 517 932)" dy="3">PINK1</text>
<circle cx="516" cy="909" r="6" fill="#3a3aa0"/>
<line x1="523" y1="909" x2="531" y2="909" stroke="#222" stroke-width="1"/>
<text x="533" y="913" font-size="12" fill="#111">Parkin</text>

<text x="72" y="967" font-size="22" fill="#b01c1c">Inflammation</text>
<path d="M210,951 L237,951 L237,944 L258,968 L237,992 L237,985 L210,985 Z" fill="#bcdaf4" stroke="#6f9bc4" stroke-width="1.2"/>

<path d="M372,951 C405,943 440,945 470,957" fill="none" stroke="#6f9bc4" stroke-width="3" marker-end="url(#mb)"/>
<path d="M372,951 C405,943 440,945 470,957" fill="none" stroke="#dbeaf7" stroke-width="1.2"/>
<path d="M588,945 C620,938 660,940 688,952" fill="none" stroke="#6f9bc4" stroke-width="3" marker-end="url(#mb)"/>
<path d="M588,945 C620,938 660,940 688,952" fill="none" stroke="#dbeaf7" stroke-width="1.2"/>
<path d="M813,968 C830,978 843,992 845,1008" fill="none" stroke="#6f9bc4" stroke-width="3" marker-end="url(#mb)"/>
<path d="M813,968 C830,978 843,992 845,1008" fill="none" stroke="#dbeaf7" stroke-width="1.2"/>

<circle cx="852" cy="1080" r="62" fill="#fff" stroke="#9ebcd6" stroke-width="6"/>
<circle cx="852" cy="1080" r="62" fill="none" stroke="#e8f2fa" stroke-width="3"/>
<g stroke="#b07080" stroke-width="2.5">
 <line x1="827" y1="1058" x2="822" y2="1024"/><line x1="852" y1="1056" x2="852" y2="1020"/><line x1="878" y1="1058" x2="884" y2="1024"/>
 <line x1="827" y1="1106" x2="822" y2="1138"/><line x1="852" y1="1108" x2="852" y2="1142"/><line x1="878" y1="1106" x2="884" y2="1138"/>
</g>
<g fill="#3a3aa0"><circle cx="825" cy="1040" r="2.2"/><circle cx="852" cy="1036" r="2.2"/><circle cx="880" cy="1040" r="2.2"/><circle cx="825" cy="1122" r="2.2"/><circle cx="852" cy="1124" r="2.2"/><circle cx="880" cy="1122" r="2.2"/></g>
<use href="#mito" transform="translate(852,1082) scale(0.9,0.86)"/>
<text x="742" y="1175" font-size="22" font-style="italic" fill="#5b8a38">Autophagosome</text>

<path d="M804,1028 C770,1022 737,1024 709,1032" fill="none" stroke="#6f9bc4" stroke-width="3" marker-end="url(#mb)"/>
<path d="M804,1028 C770,1022 737,1024 709,1032" fill="none" stroke="#dbeaf7" stroke-width="1.2"/>

<circle cx="665" cy="1085" r="63" fill="#b9d5f0" stroke="#8aaace" stroke-width="1.5"/>
<text x="623" y="1063" font-size="19" fill="#111">Lysosome</text>
<path d="M560,1092 C575,1072 640,1068 668,1092 C690,1112 688,1160 660,1180 C640,1195 600,1195 585,1185 C578,1196 560,1200 549,1194 C539,1186 542,1170 552,1162 C545,1140 545,1112 560,1092 Z" fill="#ebf4fb" stroke="#8ea8bf" stroke-width="3"/>
<path d="M560,1092 C575,1072 640,1068 668,1092 C690,1112 688,1160 660,1180 C640,1195 600,1195 585,1185 C578,1196 560,1200 549,1194 C539,1186 542,1170 552,1162 C545,1140 545,1112 560,1092 Z" fill="none" stroke="#f4f8fc" stroke-width="1"/>
<circle cx="560" cy="1181" r="9" fill="#fff" stroke="#8ea8bf" stroke-width="1.5"/>
<circle cx="556" cy="1183" r="2.5" fill="#f8d830"/><circle cx="564" cy="1181" r="2.5" fill="#f8d830"/><circle cx="560" cy="1187" r="2.5" fill="#f0a070"/>
<use href="#mito" transform="translate(583,1107) rotate(-18) scale(0.42,0.5)"/>
<use href="#mito" transform="translate(628,1124) scale(0.52,0.62)"/>
<use href="#mito" transform="translate(612,1167) rotate(10) scale(0.33,0.42)"/>
<g fill="#f8d830" stroke="#c8a000" stroke-width="0.6">
 <circle cx="632" cy="1093" r="3"/><circle cx="667" cy="1113" r="3"/><circle cx="571" cy="1136" r="4"/><circle cx="592" cy="1154" r="4.5"/><circle cx="566" cy="1160" r="3"/><circle cx="651" cy="1168" r="3"/><circle cx="670" cy="1155" r="3"/><circle cx="640" cy="1178" r="3"/>
</g>
<g fill="#f08a4a"><circle cx="641" cy="1098" r="2"/><circle cx="648" cy="1108" r="2"/><circle cx="582" cy="1166" r="2"/><circle cx="657" cy="1160" r="2"/></g>
<g fill="#f6c8b0"><circle cx="563" cy="1127" r="5"/><circle cx="664" cy="1100" r="5"/><circle cx="631" cy="1154" r="4"/></g>
<text x="636" y="1202" font-size="22" font-style="italic" fill="#5b8a38">Fusion</text>

<path d="M622,1026 C585,1022 552,1026 520,1037" fill="none" stroke="#6f9bc4" stroke-width="3" marker-end="url(#mb)"/>
<path d="M622,1026 C585,1022 552,1026 520,1037" fill="none" stroke="#dbeaf7" stroke-width="1.2"/>

<circle cx="474" cy="1093" r="62" fill="#fff" stroke="#222" stroke-width="2.2"/>
<circle cx="474" cy="1093" r="57" fill="#c6ddf6" stroke="#222" stroke-width="1.2"/>
<g>
 <ellipse cx="445" cy="1058" rx="7" ry="5" fill="#f4b8a8"/>
 <path d="M462,1056 q8,-8 16,0 l-3,3 q-5,-5 -10,0 Z" fill="#f8c870"/>
 <path d="M494,1058 l8,-8 l4,6 l-4,14 l-8,-2 Z" fill="#c890b0"/>
 <circle cx="512" cy="1076" r="6" fill="#f0a070"/>
 <path d="M437,1083 l5,-5 l4,5 l5,-5 l4,5" fill="none" stroke="#f0d040" stroke-width="1.8"/>
 <path d="M440,1093 l10,-2 l6,7 l-8,5 Z" fill="#7a80c8"/>
 <ellipse cx="485" cy="1088" rx="9" ry="6" fill="#d8ecc8"/>
 <circle cx="461" cy="1104" r="4" fill="#f8e060"/>
 <path d="M428,1118 q6,16 22,18 l-2,4 q-20,-4 -24,-20 Z" fill="#d8ecc8"/>
 <path d="M484,1140 q10,2 16,-8 l3,3 q-6,12 -19,10 Z" fill="#f8d840"/>
</g>
<use href="#mito" transform="translate(480,1123) rotate(-20) scale(0.36,0.42)"/>
<use href="#mito" transform="translate(508,1098) rotate(80) scale(0.34,0.36)"/>
<text x="410" y="1202" font-size="22" font-style="italic" fill="#5b8a38">Degradation</text>

<path d="M398,1073 L372,1073 L372,1066 L350,1090 L372,1114 L372,1107 L398,1107 Z" fill="#bcdaf4" stroke="#6f9bc4" stroke-width="1.2"/>
<line x1="396" y1="1073" x2="396" y2="1107" stroke="#6f9bc4" stroke-width="2"/>

<rect x="133" y="1062" width="212" height="150" rx="16" fill="#e6ebe2"/>
<text x="243" y="1079" font-size="17" text-anchor="middle" fill="#e02020">Tight Junctions</text>
<text x="313" y="1080" font-size="17" text-anchor="middle" fill="#3a78c8">↑</text>
<text x="242" y="1105" font-size="17" text-anchor="middle" fill="#111">ZO-1 / CLDN-5 / OCLN</text>
<text x="243" y="1131" font-size="17" text-anchor="middle" fill="#111">MUC-2 / E-cadherin</text>
<text x="243" y="1153" font-size="17" text-anchor="middle" fill="#e02020">Inflammatory  cytokines</text>
<text x="337" y="1154" font-size="17" text-anchor="middle" fill="#3a78c8">↓</text>
<text x="243" y="1180" font-size="17" text-anchor="middle" fill="#111">TNF-α / IL-1β / IL-6</text>
<text x="200" y="1201" font-size="17" text-anchor="middle" fill="#111">M1 Mø</text>
<line x1="234" y1="1195" x2="253" y2="1195" stroke="#111" stroke-width="1.2" marker-end="url(#mk)"/>
<text x="287" y="1201" font-size="17" text-anchor="middle" fill="#111">M2 Mø</text>

<text x="217" y="1045" font-size="17" font-style="italic" fill="#5b8a38">(4) Restoring gut barrier</text>
<path d="M203,1058 C198,1040 190,1012 189,990" fill="none" stroke="#6f9bc4" stroke-width="3" marker-end="url(#mb)"/>
<path d="M203,1058 C198,1040 190,1012 189,990" fill="none" stroke="#dbeaf7" stroke-width="1.2"/>
<path d="M195,1030 C178,1022 160,1025 145,1036" fill="none" stroke="#6f9bc4" stroke-width="3" marker-end="url(#mb)"/>
<path d="M195,1030 C178,1022 160,1025 145,1036" fill="none" stroke="#dbeaf7" stroke-width="1.2"/>
<path d="M182,1003 L195,1016 M195,1003 L182,1016" stroke="#e02020" stroke-width="2.6"/>
<text x="58" y="1031" font-size="22" fill="#5b8a38">Colitis</text>
<text x="58" y="1057" font-size="22" fill="#5b8a38">alleviation</text>
</svg>
</body></html>
